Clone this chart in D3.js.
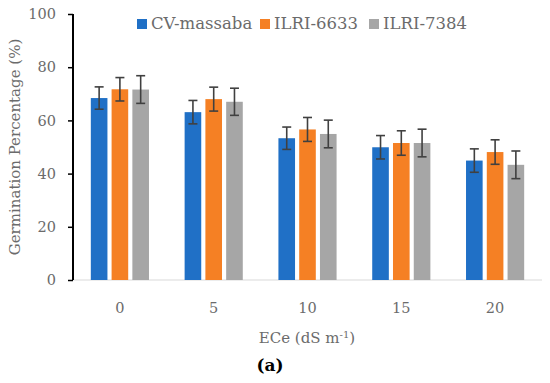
<!DOCTYPE html>
<html>
<head>
<meta charset="utf-8">
<script src="https://cdn.jsdelivr.net/npm/d3@7"></script>
<style>
  body { margin: 0; background: #fff; }
  text { font-family: "DejaVu Serif", serif; }
</style>
</head>
<body>
<div id="chart"></div>
<script>
const categories = ['0', '5', '10', '15', '20'];
const series = ['CV-massaba', 'ILRI-6633', 'ILRI-7384'];
const colors = ['#2070c6', '#f58024', '#a6a6a6'];
const values = [
  [68.4, 63.1, 53.3, 49.9, 44.9],
  [71.7, 68.0, 56.6, 51.5, 48.1],
  [71.6, 67.0, 54.9, 51.5, 43.3],
];
const errors = [
  [4.2, 4.4, 4.2, 4.4, 4.4],
  [4.4, 4.5, 4.5, 4.6, 4.6],
  [5.2, 5.1, 5.2, 5.2, 5.2],
];
const yTicks = [0, 20, 40, 60, 80, 100];

const W = 550, H = 383;
const margin = { top: 14, right: 8, bottom: 103, left: 73 };

const svg = d3.select('#chart').append('svg')
  .attr('width', W)
  .attr('height', H);

const x = d3.scaleBand()
  .domain(categories)
  .range([margin.left, W - margin.right])
  .paddingInner(0.38)
  .paddingOuter(0.19);

const xs = d3.scaleBand()
  .domain(series)
  .range([0, x.bandwidth()])
  .paddingInner(0.2);

const y = d3.scaleLinear()
  .domain([0, 100])
  .range([H - margin.bottom, margin.top]);

// x baseline
svg.append('line')
  .attr('x1', margin.left).attr('x2', W - margin.right)
  .attr('y1', y(0)).attr('y2', y(0))
  .attr('stroke', '#d9d9d9')
  .attr('stroke-width', 1);

// bars
const rows = [];
series.forEach((s, i) => {
  categories.forEach((c, j) => {
    rows.push({ s, i, c, v: values[i][j], e: errors[i][j] });
  });
});

svg.append('g').selectAll('rect')
  .data(rows)
  .join('rect')
  .attr('x', d => x(d.c) + xs(d.s))
  .attr('y', d => y(d.v))
  .attr('width', xs.bandwidth())
  .attr('height', d => y(0) - y(d.v))
  .attr('fill', d => colors[d.i]);

// error bars
const eb = svg.append('g')
  .attr('stroke', '#404040')
  .attr('stroke-width', 1.6)
  .selectAll('g')
  .data(rows)
  .join('g')
  .attr('transform', d => `translate(${x(d.c) + xs(d.s) + xs.bandwidth() / 2},0)`);

eb.append('line')
  .attr('y1', d => y(d.v + d.e))
  .attr('y2', d => y(d.v - d.e));
eb.append('line')
  .attr('x1', -4.5).attr('x2', 4.5)
  .attr('y1', d => y(d.v + d.e)).attr('y2', d => y(d.v + d.e));
eb.append('line')
  .attr('x1', -4.5).attr('x2', 4.5)
  .attr('y1', d => y(d.v - d.e)).attr('y2', d => y(d.v - d.e));

// y axis
const yAxis = svg.append('g')
  .attr('transform', `translate(${margin.left},0)`)
  .call(d3.axisLeft(y).tickValues(yTicks).tickSize(5).tickPadding(12));
yAxis.select('.domain').attr('stroke', '#000').attr('stroke-width', 2)
  .attr('d', `M0,${y(100)}V${y(0)}`);
yAxis.selectAll('.tick line').attr('stroke', '#000').attr('stroke-width', 1.5);
yAxis.selectAll('.tick text')
  .attr('fill', '#6b6b6b')
  .style('font-size', '14.5px')
  .style('font-family', '"DejaVu Serif", serif');

// x tick labels
svg.append('g').selectAll('text')
  .data(categories)
  .join('text')
  .attr('x', d => x(d) + x.bandwidth() / 2)
  .attr('y', 313)
  .attr('text-anchor', 'middle')
  .attr('fill', '#6b6b6b')
  .style('font-size', '14.5px')
  .text(d => d);

// axis titles
svg.append('text')
  .attr('transform', `translate(20,${(y(0) + y(100)) / 2}) rotate(-90)`)
  .attr('text-anchor', 'middle')
  .attr('fill', '#6b6b6b')
  .style('font-size', '15px')
  .text('Germination Percentage (%)');

const xt = svg.append('text')
  .attr('x', 307)
  .attr('y', 343)
  .attr('text-anchor', 'middle')
  .attr('fill', '#6b6b6b')
  .style('font-size', '15px');
xt.append('tspan').text('ECe (dS m');
xt.append('tspan').attr('dy', -5).style('font-size', '10px').text('-1');
xt.append('tspan').attr('dy', 5).text(')');

svg.append('text')
  .attr('x', 270)
  .attr('y', 371)
  .attr('text-anchor', 'middle')
  .attr('fill', '#000')
  .style('font-size', '17px')
  .style('font-weight', 'bold')
  .text('(a)');

// legend
const legendX = [137, 260, 369];
const lg = svg.append('g').selectAll('g')
  .data(series)
  .join('g')
  .attr('transform', (d, i) => `translate(${legendX[i]},19)`);
lg.append('rect')
  .attr('width', 10).attr('height', 10)
  .attr('fill', (d, i) => colors[i]);
lg.append('text')
  .attr('x', 14).attr('y', 10)
  .attr('fill', '#6b6b6b')
  .style('font-size', '16.5px')
  .text(d => d);
</script>
</body>
</html>
